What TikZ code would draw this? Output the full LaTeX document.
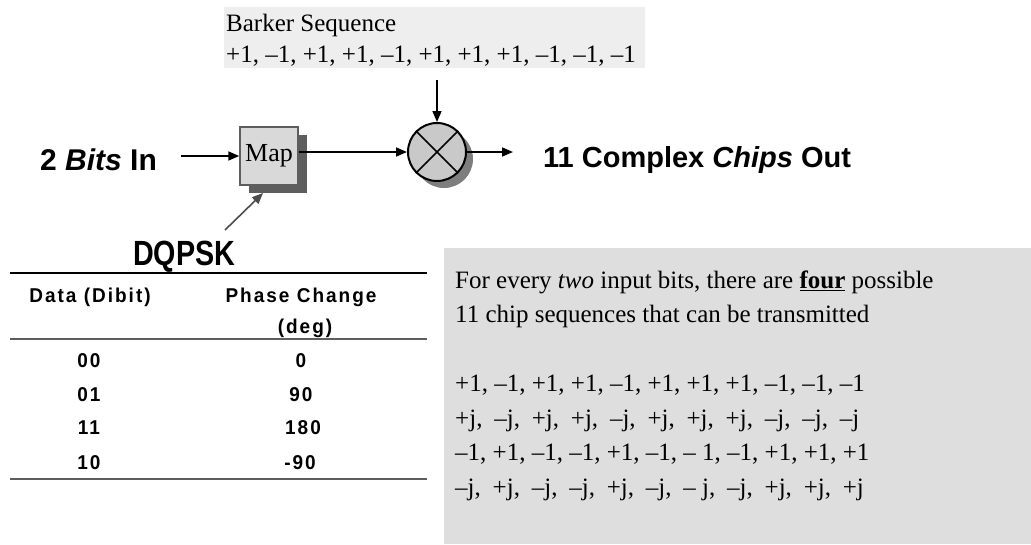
\documentclass[tikz,border=0pt]{standalone}
\usepackage{fontspec}
\setmainfont{Liberation Serif}
\newfontfamily\headsans{Liberation Sans}
\newfontfamily\condsans[FakeStretch=0.82]{Liberation Sans}
\newfontfamily\tabsans[FakeStretch=0.95,LetterSpace=10]{Liberation Sans}
\usetikzlibrary{arrows.meta,shadows,positioning}

\definecolor{barkergray}{HTML}{EEEEEE}
\definecolor{notegray}{HTML}{DEDEDE}
\definecolor{mapgray}{HTML}{D9D9D9}
\definecolor{mixgray}{HTML}{C9C9C9}
\definecolor{shadowgray}{HTML}{5E5E5E}

% a j-chip set in the room of the matching number chip
\newcommand{\jalign}[2]{\makebox[0pt][l]{#1}\phantom{#2}}

\begin{document}
\begin{tikzpicture}[x=1pt,y=-1pt,
		arr/.style={-{Triangle[length=11pt,width=9pt]}, line width=1.6pt},
		serif25/.style={font=\fontsize{25}{30}\selectfont, inner sep=0pt},
		tabtext/.style={font=\tabsans\bfseries\fontsize{20}{24}\selectfont, inner sep=0pt, anchor=base}]
	\useasboundingbox (0,0) rectangle (1031,544);

	% barker sequence
	\fill[barkergray] (224,7) rectangle (645,68);
	\node[serif25, anchor=base west] (barkertitle) at (226,31) {Barker Sequence};
	\node[serif25, anchor=base west] (barkerseq) at (226,62) {+1, --1, +1, +1, --1, +1, +1, +1, --1, --1, --1};
	\coordinate (bk) at (437,80);

	% block chain
	\node[draw=shadowgray, line width=1.5pt, fill=mapgray, minimum size=58pt, inner sep=0pt,
		font=\fontsize{26}{30}\selectfont,
		drop shadow={shadow xshift=9pt, shadow yshift=-8pt, fill=shadowgray, opacity=1}] (map) at (269,156) {Map};
	\node[draw, line width=2pt, fill=mixgray, circle, minimum size=58pt, inner sep=0pt,
		drop shadow={shadow xshift=7pt, shadow yshift=-7pt, fill=shadowgray!80, opacity=1}] (mix) at (437,152) {};
	\draw[line width=1.6pt] (mix.45) -- (mix.225);
	\draw[line width=1.6pt] (mix.135) -- (mix.315);

	\node[anchor=base west, inner sep=0pt, font=\headsans\bfseries\fontsize{30}{36}\selectfont] (bitsin) at (40,170) {2 \textit{Bits} In};
	\node[anchor=base west, inner sep=0pt, font=\headsans\bfseries\fontsize{29}{36}\selectfont] (chipsout) at (543,167) {11 Complex \textit{Chips} Out};

	\draw[arr] ([xshift=24pt]bitsin.east |- map.west) -- (map.west);
	\draw[arr] (map.east |- mix.west) -- (mix.west);
	\draw[arr] (mix.east) -- ([xshift=-30pt]chipsout.west |- mix.east);
	\draw[arr] (bk) -- (mix.north);

	% DQPSK table
	\node[anchor=base west, inner sep=0pt, font=\condsans\bfseries\fontsize{35}{40}\selectfont] (dqpsk) at (133,265) {DQPSK};
	\coordinate (dq) at (225,230);
	\draw[arr, black!70] (dq) -- (263,193);

	\draw[line width=2.5pt] (10,273) -- (427,273);
	\draw[line width=1.2pt, shadowgray] (10,339) -- (427,339);
	\draw[line width=2pt, shadowgray] (10,479) -- (427,479);

	\node[tabtext] (hdata) at (90,302) {Data (Dibit)};
	\node[tabtext] (hphase) at (301,302) {Phase Change};
	\node[tabtext] (hdeg) at (305,333) {(deg)};
	\node[tabtext] (d00) at (89,367) {00};
	\node[tabtext] (p00) at (301,367) {0};
	\node[tabtext] (d01) at (89,401) {01};
	\node[tabtext] (p01) at (301,401) {90};
	\node[tabtext] (d11) at (89,434) {11};
	\node[tabtext] (p11) at (303,434) {180};
	\node[tabtext] (d10) at (89,469) {10};
	\node[tabtext] (p10) at (300,469) {-90};

	% note on the four chip sequences
	\fill[notegray] (444,248) rectangle (1031,544);
	\node[serif25, anchor=base west] (note1) at (455,288) {For every \textit{two} input bits, there are \underline{\textbf{four}} possible};
	\node[serif25, anchor=base west] (note2) at (455,322.5) {11 chip sequences that can be transmitted};
	\node[serif25, anchor=base west] (seq1) at (455,391.5) {+1, --1, +1, +1, --1, +1, +1, +1, --1, --1, --1};
	\node[serif25, anchor=base west] (seq2) at (455,426) {\jalign{+j,}{+1,} \jalign{--j,}{--1,} \jalign{+j,}{+1,} \jalign{+j,}{+1,} \jalign{--j,}{--1,} \jalign{+j,}{+1,} \jalign{+j,}{+1,} \jalign{+j,}{+1,} \jalign{--j,}{--1,} \jalign{--j,}{--1,} --j};
	\node[serif25, anchor=base west] (seq3) at (455,460.5) {--1, +1, --1, --1, +1, --1, -- 1, --1, +1, +1, +1};
	\node[serif25, anchor=base west] (seq4) at (455,495) {\jalign{--j,}{--1,} \jalign{+j,}{+1,} \jalign{--j,}{--1,} \jalign{--j,}{--1,} \jalign{+j,}{+1,} \jalign{--j,}{--1,} \jalign{-- j,}{-- 1,} \jalign{--j,}{--1,} \jalign{+j,}{+1,} \jalign{+j,}{+1,} +j};
\end{tikzpicture}
\end{document}
